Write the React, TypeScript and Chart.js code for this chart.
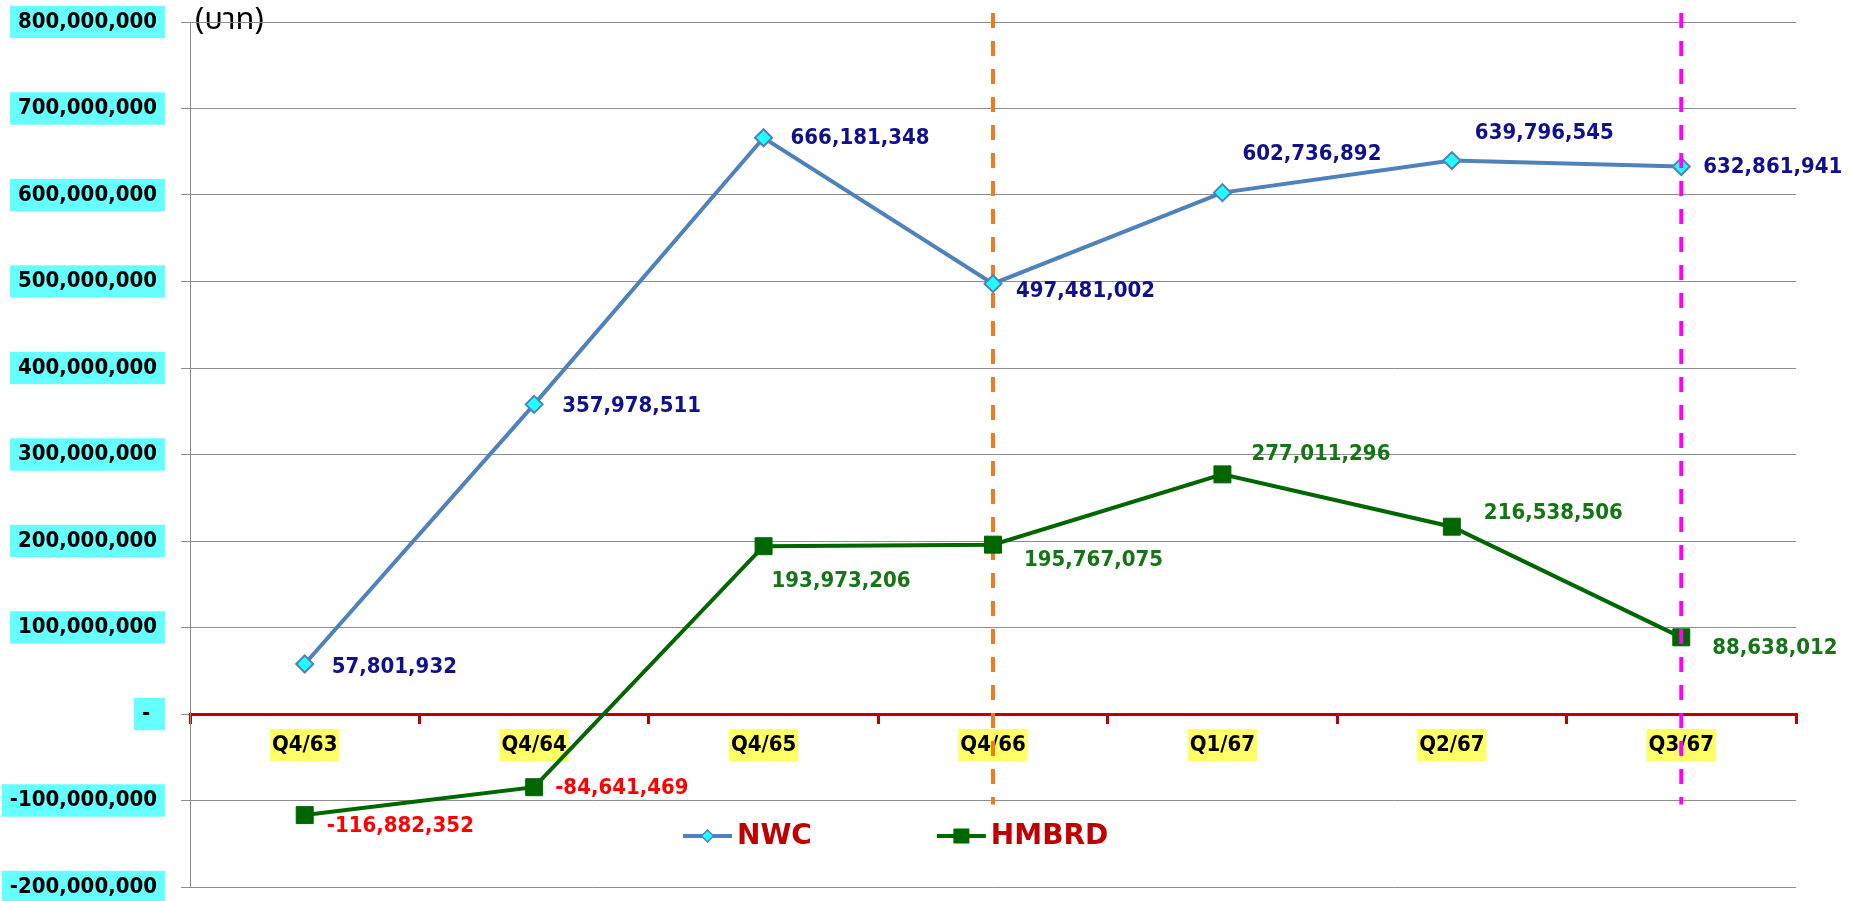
import React, { useEffect, useRef } from 'react';
import { Chart, registerables } from 'chart.js';

Chart.register(...registerables);

// ---------- data ----------
const categories = ['Q4/63', 'Q4/64', 'Q4/65', 'Q4/66', 'Q1/67', 'Q2/67', 'Q3/67'];
const nwcValues = [57801932, 357978511, 666181348, 497481002, 602736892, 639796545, 632861941];
const hmbrdValues = [-116882352, -84641469, 193973206, 195767075, 277011296, 216538506, 88638012];
const yTickValues = [
  -200000000, -100000000, 0, 100000000, 200000000, 300000000, 400000000, 500000000, 600000000,
  700000000, 800000000,
];
const seriesNames = ['NWC', 'HMBRD'];
const unitLabel = '(บาท)';
const orangeMarkerIndex = 3;
const magentaMarkerIndex = 6;
const markerLineBottomValue = -100000000;

// ---------- styles / placement ----------
const FONT = "'DejaVu Sans Condensed', 'DejaVu Sans', Verdana, Tahoma, sans-serif";
const LEGEND_FONT = "'DejaVu Sans', Verdana, Tahoma, sans-serif";
const TEXT_SIZE = 22;
const NWC_LINE = '#4F81BD';
const NWC_FILL = '#22FFFF';
const HM_COLOR = '#006600';
const NWC_LABEL = '#10108C';
const HM_LABEL = '#137513';
const NEG_LABEL = '#FF0000';
const LEGEND_TEXT = '#C00000';
const AXIS_RED = '#C00000';
const GRID = '#8C8C8C';

// label offsets (dx, dy) from each point
const nwcLabelOffsets = [[27, 3], [28, 2], [27, 1], [23, 8], [20, -38], [23, -27], [22, 1]];
const hmLabelOffsets = [[22, 11], [21, 1], [8, 35], [31, 16], [29, -20], [32, -13], [31, 11]];

const fmt = (v: number) => v.toLocaleString('en-US');

function drawVLine(chart: any, idx: number, color: string) {
  const ctx = chart.ctx;
  const x = chart.scales.x.getPixelForValue(idx);
  const yEnd = chart.scales.y.getPixelForValue(markerLineBottomValue) + 4;
  ctx.save();
  ctx.strokeStyle = color;
  ctx.lineWidth = 4;
  ctx.setLineDash([15, 13]);
  ctx.lineDashOffset = 15;
  ctx.beginPath();
  ctx.moveTo(x, 0);
  ctx.lineTo(x, yEnd);
  ctx.stroke();
  ctx.restore();
}

const overlayPlugin = {
  id: 'overlay',
  beforeDraw(chart: any) {
    const ctx = chart.ctx;
    const { left, top } = chart.chartArea;
    ctx.save();
    ctx.font = "31px 'Noto Sans Thai', Tahoma, 'DejaVu Sans', sans-serif";
    ctx.fillStyle = '#000000';
    ctx.textAlign = 'left';
    ctx.textBaseline = 'middle';
    ctx.fillText(unitLabel, left + 5, top + 1);
    ctx.restore();
  },
  beforeDatasetsDraw(chart: any) {
    drawVLine(chart, orangeMarkerIndex, '#F07A1C');
  },
  afterDatasetsDraw(chart: any) {
    drawVLine(chart, magentaMarkerIndex, '#FF00FF');
    const ctx = chart.ctx;
    ctx.save();
    ctx.font = `bold ${TEXT_SIZE}px ${FONT}`;
    ctx.textAlign = 'left';
    ctx.textBaseline = 'middle';
    const metaN = chart.getDatasetMeta(0);
    metaN.data.forEach((pt: any, i: number) => {
      const [dx, dy] = nwcLabelOffsets[i];
      ctx.fillStyle = NWC_LABEL;
      ctx.fillText(fmt(nwcValues[i]), pt.x + dx, pt.y + dy);
    });
    const metaH = chart.getDatasetMeta(1);
    metaH.data.forEach((pt: any, i: number) => {
      const [dx, dy] = hmLabelOffsets[i];
      ctx.fillStyle = hmbrdValues[i] < 0 ? NEG_LABEL : HM_LABEL;
      ctx.fillText(fmt(hmbrdValues[i]), pt.x + dx, pt.y + dy);
    });

    // legend
    const y = chart.chartArea.bottom - 51;
    let x = chart.chartArea.left + 493;
    ctx.font = `bold 28px ${LEGEND_FONT}`;
    seriesNames.forEach((name, i) => {
      const color = i === 0 ? NWC_LINE : HM_COLOR;
      ctx.strokeStyle = color;
      ctx.lineWidth = 4;
      ctx.beginPath();
      ctx.moveTo(x, y);
      ctx.lineTo(x + 49, y);
      ctx.stroke();
      const cx = x + 24.5;
      if (i === 0) {
        ctx.fillStyle = NWC_FILL;
        ctx.strokeStyle = NWC_LINE;
        ctx.lineWidth = 1.5;
        ctx.beginPath();
        ctx.moveTo(cx - 6, y);
        ctx.lineTo(cx, y - 6);
        ctx.lineTo(cx + 6, y);
        ctx.lineTo(cx, y + 6);
        ctx.closePath();
        ctx.fill();
        ctx.stroke();
      } else {
        ctx.fillStyle = HM_COLOR;
        ctx.fillRect(cx - 8, y - 7.5, 16, 15);
      }
      ctx.fillStyle = LEGEND_TEXT;
      ctx.fillText(name, x + 54, y + 1);
      x += 54 + ctx.measureText(name).width + 125;
    });
    ctx.restore();
  },
};

export default function App() {
  const ref = useRef<HTMLCanvasElement | null>(null);

  useEffect(() => {
    if (!ref.current) return;
    const chart = new Chart(ref.current, {
      type: 'line',
      data: {
        labels: categories,
        datasets: [
          {
            label: seriesNames[0],
            data: nwcValues,
            borderColor: NWC_LINE,
            borderWidth: 4,
            backgroundColor: NWC_FILL,
            pointStyle: 'rectRot',
            pointRadius: 8.5,
            pointBackgroundColor: NWC_FILL,
            pointBorderColor: NWC_LINE,
            pointBorderWidth: 2,
            tension: 0,
            clip: false as any,
          },
          {
            label: seriesNames[1],
            data: hmbrdValues,
            borderColor: HM_COLOR,
            borderWidth: 4,
            backgroundColor: HM_COLOR,
            pointStyle: 'rect',
            pointRadius: 12,
            pointBackgroundColor: HM_COLOR,
            pointBorderColor: HM_COLOR,
            pointBorderWidth: 1,
            tension: 0,
            clip: false as any,
          },
        ],
      },
      options: {
        responsive: false,
        animation: false,
        devicePixelRatio: 1,
        layout: { padding: { left: 0, right: 64, top: 22, bottom: 16 } },
        plugins: {
          legend: { display: false },
          tooltip: { enabled: false },
        },
        scales: {
          x: {
            type: 'category',
            position: { y: 0 } as any,
            offset: true,
            grid: {
              display: true,
              offset: true,
              drawOnChartArea: false,
              drawTicks: true,
              tickLength: 8,
              color: AXIS_RED,
              lineWidth: 3,
            },
            border: { display: true, color: AXIS_RED, width: 3 },
            ticks: {
              color: '#000000',
              font: { family: FONT, size: TEXT_SIZE, weight: 'bold' },
              padding: 10,
              maxRotation: 0,
              autoSkip: false,
              showLabelBackdrop: true,
              backdropColor: '#FFFF66',
              backdropPadding: { top: 3, bottom: 3, left: 2, right: 2 },
            },
          },
          y: {
            type: 'linear',
            position: 'left',
            min: -200000000,
            max: 800000000,
            afterBuildTicks: (scale: any) => {
              scale.ticks = yTickValues.map((v) => ({ value: v }));
            },
            afterFit: (scale: any) => {
              scale.width = 190;
              scale.paddingTop = 0;
              scale.paddingBottom = 0;
            },
            grid: {
              color: GRID,
              lineWidth: 1,
              tickLength: 9,
              drawTicks: true,
            },
            border: { display: true, color: GRID, width: 1 },
            ticks: {
              color: '#000000',
              font: { family: FONT, size: TEXT_SIZE, weight: 'bold' },
              padding: 24,
              callback: (v: any) => (Number(v) === 0 ? '- ' : fmt(Number(v))),
              showLabelBackdrop: true,
              backdropColor: '#66FFFF',
              backdropPadding: { top: 3, bottom: 3, left: 8, right: 8 },
            },
          },
        },
      },
      plugins: [overlayPlugin],
    } as any);
    return () => chart.destroy();
  }, []);

  return (
    <div
      style={{
        position: 'fixed',
        left: 0,
        top: 0,
        width: 1860,
        height: 901,
        overflow: 'hidden',
        background: '#ffffff',
      }}
    >
      <canvas ref={ref} width={1860} height={903} style={{ display: 'block' }} />
    </div>
  );
}
